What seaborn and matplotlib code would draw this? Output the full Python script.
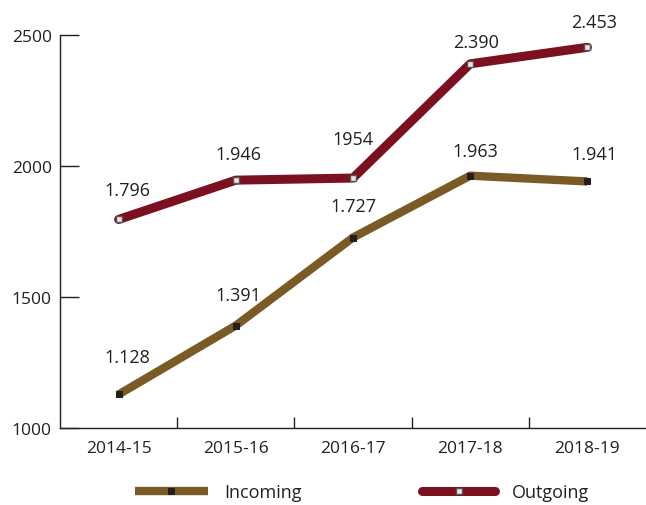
import pandas as pd
import matplotlib.pyplot as plt
import seaborn as sns

# Data
years = ["2014-15", "2015-16", "2016-17", "2017-18", "2018-19"]
incoming = [1128, 1391, 1727, 1963, 1941]
outgoing = [1796, 1946, 1954, 2390, 2453]
incoming_labels = ["1.128", "1.391", "1.727", "1.963", "1.941"]
outgoing_labels = ["1.796", "1.946", "1954", "2.390", "2.453"]

# label offsets in points (dx, dy)
incoming_off = [(6, 27), (2, 22), (0, 23), (4, 18), (5, 20)]
outgoing_off = [(6, 21), (2, 19), (0, 28), (4, 16), (5, 18)]

sns.set_style("ticks")
plt.rcParams['font.family'] = ['Open Sans', 'DejaVu Sans']
text_col = "#231f20"
inc_col = "#7a5a25"
out_col = "#7b1020"

df = pd.DataFrame({"year": years, "x": range(len(years)),
                   "Incoming": incoming, "Outgoing": outgoing})

fig = plt.figure(figsize=(6.46, 5.06), dpi=100)
ax = fig.add_axes([60/646, 1-429/506, 1-60/646, (429-36)/506])

sns.lineplot(data=df, x="x", y="Incoming", ax=ax, color=inc_col, linewidth=6,
             marker="s", markersize=4.5, markerfacecolor="#231f20",
             markeredgecolor="#231f20", solid_capstyle="butt", label="Incoming")
sns.lineplot(data=df, x="x", y="Outgoing", ax=ax, color=out_col, linewidth=6.5,
             marker="s", markersize=4.5, markerfacecolor="#e8e8e8",
             markeredgecolor="#555555", markeredgewidth=1,
             solid_capstyle="round", solid_joinstyle="round", label="Outgoing")

for i in range(len(years)):
    ax.annotate(incoming_labels[i], (i, incoming[i]), xytext=incoming_off[i],
                textcoords="offset points", ha="center", va="center",
                fontsize=13, color=text_col)
    ax.annotate(outgoing_labels[i], (i, outgoing[i]), xytext=outgoing_off[i],
                textcoords="offset points", ha="center", va="center",
                fontsize=13, color=text_col)

ax.set_xlim(-0.5, 4.5)
ax.set_ylim(1000, 2500)
ax.set_xticks(range(len(years)))
ax.set_xticklabels(years)
ax.set_xticks([0.5, 1.5, 2.5, 3.5], minor=True)
ax.set_yticks([1000, 1500, 2000, 2500])
ax.tick_params(axis="x", which="major", length=0, pad=9, labelsize=12.5, labelcolor=text_col)
ax.tick_params(axis="x", which="minor", direction="in", length=8, width=1, color=text_col)
ax.tick_params(axis="y", direction="in", length=14, width=1, color=text_col,
               pad=6, labelsize=12.5, labelcolor=text_col)
ax.set_xlabel("")
ax.set_ylabel("")
sns.despine(ax=ax)
for s in ["left", "bottom"]:
    ax.spines[s].set_color(text_col)
    ax.spines[s].set_linewidth(1)

ax.get_legend().remove()
handles, labels = ax.get_legend_handles_labels()
fig.legend(handles, labels, loc="center", bbox_to_anchor=(0.56, 0.026), ncol=2,
           frameon=False, handlelength=4.05, columnspacing=6.7, handletextpad=0.9,
           fontsize=13, labelcolor=text_col)

fig.savefig("out.png", dpi=100)
